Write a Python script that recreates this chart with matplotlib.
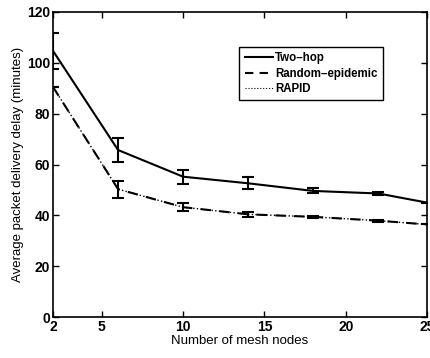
import matplotlib
matplotlib.use("Agg")
import matplotlib.pyplot as plt
from matplotlib.lines import Line2D

plt.rcParams["font.family"] = ["Liberation Sans", "DejaVu Sans"]

nodes = [2, 6, 10, 14, 18, 22, 25]
two_hop = [104.7, 65.7, 55.2, 52.6, 49.6, 48.6, 45.0]
two_hop_err = [7.0, 4.6, 2.8, 2.4, 1.0, 0.7, 0.0]
random_epi = [90.5, 50.3, 43.2, 40.4, 39.4, 37.9, 36.4]
random_err = [0.0, 3.4, 1.5, 1.1, 0.4, 0.4, 0.0]
rapid = [90.5, 50.3, 43.2, 40.4, 39.4, 37.9, 36.4]

fig = plt.figure(figsize=(4.31, 3.58), dpi=100)
ax = fig.add_axes([0.123, 0.1145, 0.868, 0.852])

ax.plot(nodes, rapid, ":", color="black", lw=1.0, zorder=2)
ax.errorbar(nodes, two_hop, yerr=two_hop_err, fmt="-", color="black", lw=1.5,
            elinewidth=1.5, capsize=4, capthick=1.5, zorder=3)
ax.errorbar(nodes, random_epi, yerr=random_err, fmt="--", color="black", lw=1.5,
            elinewidth=1.5, capsize=4, capthick=1.5, dashes=(5, 4), zorder=3)

ax.set_xlim(2, 25)
ax.set_ylim(0, 120)
ax.set_xticks([2, 5, 10, 15, 20, 25])
ax.set_yticks([0, 20, 40, 60, 80, 100, 120])
ax.tick_params(direction="in", top=True, right=True, length=4, width=1, pad=2)
for lab in ax.get_xticklabels() + ax.get_yticklabels():
    lab.set_fontweight("bold")
    lab.set_fontsize(10)
for s in ax.spines.values():
    s.set_linewidth(1.2)

ax.set_xlabel("Number of mesh nodes", fontsize=9.5, labelpad=1)
ax.set_ylabel("Average packet delivery delay (minutes)", fontsize=9.5, labelpad=2)

handles = [
    Line2D([], [], color="black", lw=1.5, ls="-"),
    Line2D([], [], color="black", lw=1.5, ls="--", dashes=(4, 3)),
    Line2D([], [], color="black", lw=0.8, ls=":"),
]
labels = ["Two\u2013hop", "Random\u2013epidemic", "RAPID"]
leg = ax.legend(handles, labels, loc="upper left", bbox_to_anchor=(0.498, 0.885),
                fancybox=False, edgecolor="black", framealpha=1,
                prop={"weight": "bold", "size": 8.3},
                handlelength=2.5, handletextpad=0.15, borderpad=0.45,
                labelspacing=0.3, borderaxespad=0)
leg.get_frame().set_linewidth(1.0)

fig.savefig("out.png", dpi=100)
